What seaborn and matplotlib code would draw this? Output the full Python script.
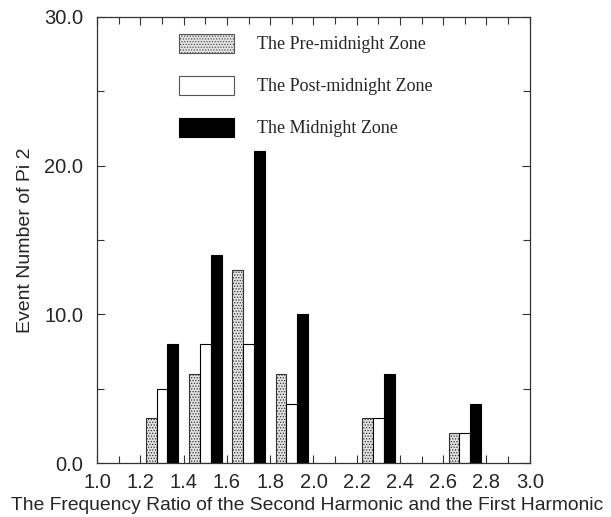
import matplotlib
matplotlib.use("Agg")
import matplotlib.pyplot as plt
from matplotlib.patches import Patch
from matplotlib.ticker import MultipleLocator, FormatStrFormatter
import seaborn as sns
import pandas as pd

# ---- data ----
ratio_bins = [1.3, 1.5, 1.7, 1.9, 2.3, 2.7]
pre_midnight = [3, 6, 13, 6, 3, 2]
post_midnight = [5, 8, 8, 4, 3, 2]
midnight = [8, 14, 21, 10, 6, 4]
zones = ["The Pre-midnight Zone", "The Post-midnight Zone", "The Midnight Zone"]

rows = []
for zone, vals in zip(zones, [pre_midnight, post_midnight, midnight]):
    for b, v in zip(ratio_bins, vals):
        rows.append({"ratio": b, "count": v, "zone": zone})
df = pd.DataFrame(rows)

sns.set_style("ticks")
plt.rcParams["font.family"] = ["Liberation Sans", "DejaVu Sans"]
plt.rcParams["hatch.linewidth"] = 0.6
plt.rcParams["hatch.color"] = "#555555"

fig = plt.figure(figsize=(6.11, 5.17), dpi=100)
ax = fig.add_axes([0.159, 0.1044, 0.708, 0.863])

face = {zones[0]: "#e2e2e2", zones[1]: "white", zones[2]: "black"}
sns.barplot(data=df, x="ratio", y="count", hue="zone", hue_order=zones,
            palette=face, native_scale=True, width=0.75, errorbar=None,
            edgecolor="black", linewidth=0.8, saturation=1, ax=ax, legend=False)

# stipple pattern for the pre-midnight bars
for bar in ax.containers[0]:
    bar.set_hatch("......")
    bar.set_edgecolor("#333333")

ax.set_xlim(1.0, 3.0)
ax.set_ylim(0, 30)
ax.xaxis.set_major_locator(MultipleLocator(0.2))
ax.xaxis.set_minor_locator(MultipleLocator(0.1))
ax.yaxis.set_major_locator(MultipleLocator(10))
ax.yaxis.set_minor_locator(MultipleLocator(5))
ax.xaxis.set_major_formatter(FormatStrFormatter("%.1f"))
ax.yaxis.set_major_formatter(FormatStrFormatter("%.1f"))

ax.tick_params(axis="both", which="both", direction="in", top=True, right=True,
               width=0.8, color="#333333")
ax.tick_params(axis="both", which="major", length=6, labelsize=14.5)
ax.tick_params(axis="both", which="minor", length=5)
ax.tick_params(axis="y", which="major", pad=10)
ax.tick_params(axis="x", which="major", pad=7)
for s in ax.spines.values():
    s.set_linewidth(0.9)
    s.set_color("#333333")

ax.set_xlabel("The Frequency Ratio of the Second Harmonic and the First Harmonic",
              fontsize=13.9)
ax.xaxis.set_label_coords(0.486, -0.076)
ax.set_ylabel("Event Number of Pi 2", fontsize=14, labelpad=7)

handles = [
    Patch(facecolor="#e2e2e2", edgecolor="#555555", hatch="......", linewidth=0.8),
    Patch(facecolor="white", edgecolor="#555555", linewidth=0.8),
    Patch(facecolor="black", edgecolor="black", linewidth=0.8),
]
ax.legend(handles, zones, loc="upper left", bbox_to_anchor=(0.189, 0.962),
          frameon=False, borderpad=0, borderaxespad=0,
          handlelength=3.05, handleheight=1.22, labelspacing=1.25,
          handletextpad=1.3,
          prop={"family": ["Liberation Serif", "DejaVu Serif"], "size": 13})

fig.savefig("out.png", dpi=100)
